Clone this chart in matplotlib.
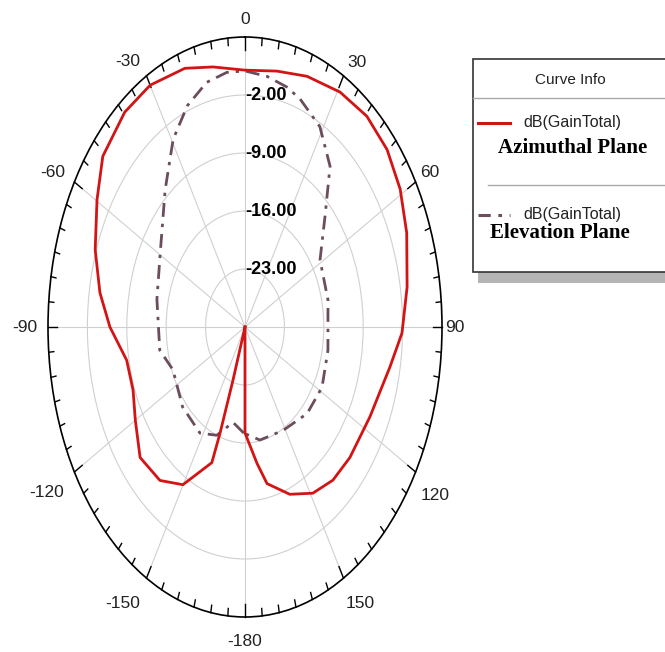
import numpy as np
import matplotlib
matplotlib.use("Agg")
import matplotlib.pyplot as plt
from matplotlib.patches import Rectangle
from matplotlib.lines import Line2D

# angle labels (clockwise from top)
theta_ticks = [0, 30, 60, 90, 120, 150, 180, 210, 240, 270, 300, 330]
theta_labels = ['0', '30', '60', '90', '120', '150', '-180', '-150', '-120', '-90', '-60', '-30']
r_ticks = [-23, -16, -9, -2]
r_labels = ['-23.00', '-16.00', '-9.00', '-2.00']

# dB(GainTotal), azimuthal plane (deg, dB)
az_theta = [-161.6, -161.6, -160.9, -160.2, -149.9, -140.8, -130.2, -120, -111, -100.8,
            -90, -80.9, -70.7, -59.7, -50.8, -39.5, -30, -18.9, -10.3, 0,
            10.4, 20, 30.8, 40.4, 49.7, 58.9, 68.4, 80.5, 91.5, 100.6,
            116, 130.2, 139.8, 149, 158.5, 168.3, 172.6, 180, 180]
az_gain = [-30, -23.2, -16.4, -12.6, -8.0, -6.1, -5.6, -7.5, -8.7, -8.6,
           -6.0, -3.9, -1.8, 0.45, 2.6, 3.6, 3.7, 3.0, 1.9, 1.0,
           1.4, 2.2, 3.0, 3.4, 3.1, 2.2, 0.9, -0.8, -2.1, -3.8,
           -5.3, -5.6, -5.8, -6.6, -8.3, -10.7, -13.4, -17.2, -30]

# dB(GainTotal), elevation plane (deg, dB)
el_theta = [-179, -169.5, -159, -148, -131, -112, -100.5, -78, -58, -40.6,
            -29.4, -21, -13, -6, 0, 7.4, 14.4, 19.6, 28.8, 37.9,
            46.8, 58.7, 77.5, 100.8, 118, 133.4, 151.5, 169, 181]
el_gain = [-17.2, -18.3, -16.0, -14.9, -15.3, -16.2, -14.6, -14.0, -12.3, -8.2,
           -4.0, -1.4, 0.3, 0.9, 0.9, 0.5, -0.1, -0.8, -2.4, -5.4,
           -10.5, -14.4, -14.9, -15.0, -14.5, -14.8, -15.8, -16.1, -17.2]

W, H = 665, 652
fig = plt.figure(figsize=(W / 100, H / 100), dpi=100)
fig.patch.set_facecolor('white')

# plot area is an ellipse: centre (245, 327), rx 197, ry 290 px
cx, cy, rx, ry = 245, 327, 197, 290
ax = fig.add_axes([(cx - rx) / W, 1 - (cy + ry) / H, 2 * rx / W, 2 * ry / H],
                  projection='polar')
ax.set_aspect('auto')
ax.set_theta_zero_location('N')
ax.set_theta_direction(-1)
rmin, rmax = -30, 5
ax.set_ylim(rmin, rmax)

sans = ['Liberation Sans', 'DejaVu Sans']

ax.set_thetagrids(theta_ticks, labels=[''] * len(theta_ticks))
ax.set_yticks(r_ticks)
ax.set_yticklabels([])
ax.grid(True, color='#d0d0d0', linewidth=0.8)
ax.spines['polar'].set_color('black')
ax.spines['polar'].set_linewidth(1.2)

# angle labels just outside the rim (where they sit in the stretched picture)
label_ang = [0, 31.9, 60.4, 90, 121, 148.5, 180, 213.2, 240.4, 270, 298.7, 327]
label_k = [1.06, 1.076, 1.08, 1.066, 1.125, 1.117, 1.086, 1.138, 1.157, 1.117, 1.111, 1.09]
for a, lab, k in zip(label_ang, theta_labels, label_k):
    ax.text(np.deg2rad(a), rmin + (rmax - rmin) * k, lab, ha='center', va='center',
            fontsize=12.5, family=sans, color='#222222', clip_on=False)

# tick marks on the outer rim
for d in range(0, 360, 5):
    t = np.deg2rad(d)
    ln = 1.6 if d % 30 == 0 else 0.9
    ax.plot([t, t], [rmax, rmax - ln], color='black', lw=1.0, clip_on=False)

for r, lab in zip(r_ticks, r_labels):
    ax.text(0, r, lab, ha='left', va='center', fontsize=13, fontweight='bold',
            family=sans, color='black', zorder=6)

ax.plot(np.deg2rad(az_theta), az_gain, color='#d21414', lw=2.0, zorder=5)
ax.plot(np.deg2rad(el_theta), el_gain, color='#6b4d5d', lw=2.0,
        dashes=[5, 2.5, 1.2, 2.5], zorder=4)


# legend box drawn in pixel coordinates
def fx(x):
    return x / W


def fy(y):
    return 1 - y / H


fig.add_artist(Rectangle((fx(478), fy(283)), fx(200), 11 / H, facecolor='#b4b4b4',
                         edgecolor='none', transform=fig.transFigure))
fig.add_artist(Rectangle((fx(473), fy(272)), fx(200), 213 / H, facecolor='white',
                         edgecolor='#333333', lw=1.2, transform=fig.transFigure))
fig.add_artist(Line2D([fx(473), fx(665)], [fy(98), fy(98)], color='#aaaaaa', lw=1.0))
fig.add_artist(Line2D([fx(488), fx(665)], [fy(185), fy(185)], color='#aaaaaa', lw=1.0))

fig.text(fx(570), fy(80), 'Curve Info', ha='center', va='center', fontsize=11,
         family=sans, color='#222222')
fig.add_artist(Line2D([fx(478), fx(510)], [fy(123), fy(123)], color='#d21414', lw=2.2))
fig.text(fx(523), fy(123), 'dB(GainTotal)', ha='left', va='center', fontsize=11.5,
         family=sans, color='#222222')
fig.text(fx(498), fy(148), 'Azimuthal Plane', ha='left', va='center', fontsize=15,
         fontweight='bold', family='Liberation Serif', color='black')
fig.add_artist(Line2D([fx(478), fx(510)], [fy(215), fy(215)], color='#6b4d5d', lw=2.2,
                      dashes=[4, 2.5, 1.2, 2.5]))
fig.text(fx(523), fy(215), 'dB(GainTotal)', ha='left', va='center', fontsize=11.5,
         family=sans, color='#222222')
fig.text(fx(490), fy(233), 'Elevation Plane', ha='left', va='center', fontsize=15,
         fontweight='bold', family='Liberation Serif', color='black')

fig.savefig('out.png', dpi=100, facecolor='white')
